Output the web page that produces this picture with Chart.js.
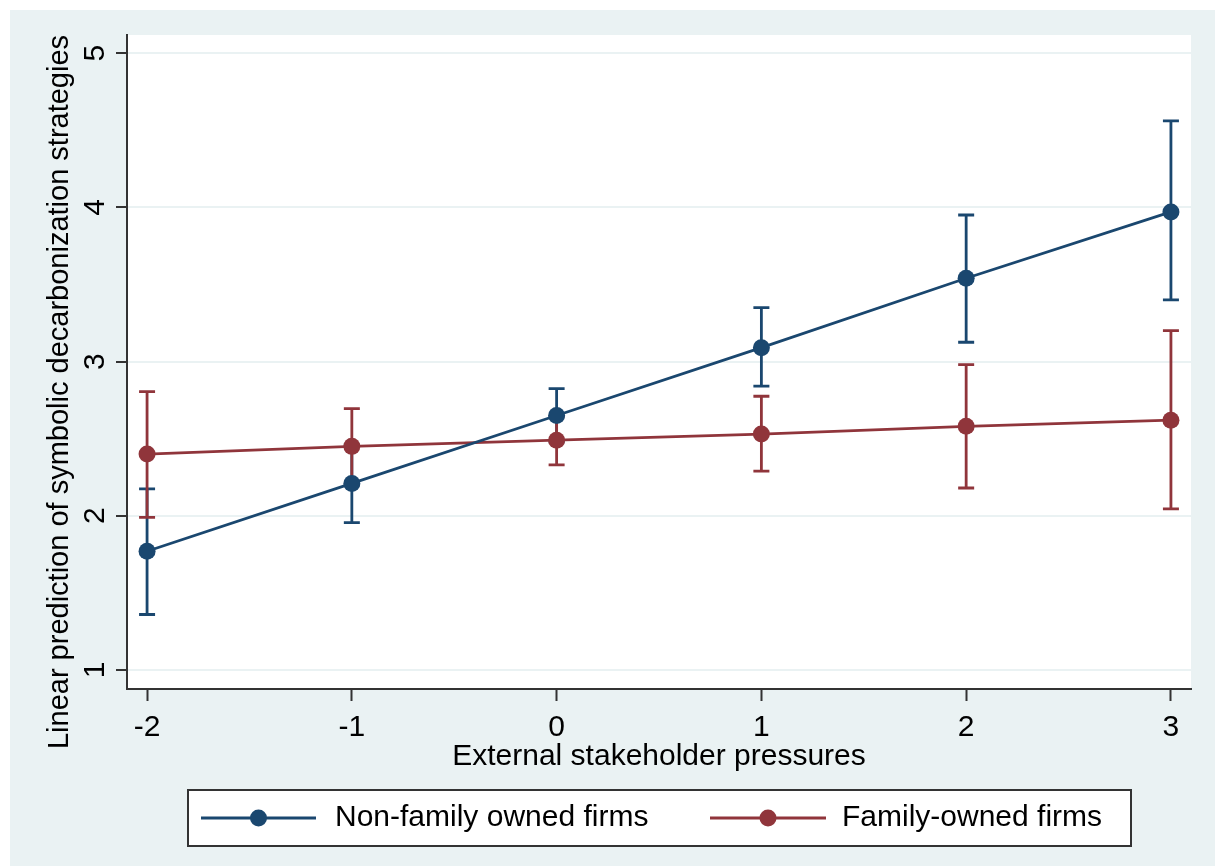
<!DOCTYPE html>
<html><head><meta charset="utf-8">
<script src="https://cdn.jsdelivr.net/npm/chart.js@4.4.0/dist/chart.umd.min.js"></script>
<style>html,body{margin:0;padding:0;background:#fff}canvas{display:block}</style>
</head><body><canvas id="c" width="1215" height="866"></canvas>
<script>
const xValues = [-2, -1, 0, 1, 2, 3];
const nonFamily = [1.77, 2.21, 2.65, 3.09, 3.54, 3.97];
const nonFamilyLow = [1.36, 1.955, 2.48, 2.84, 3.125, 3.40];
const nonFamilyHigh = [2.175, 2.46, 2.825, 3.35, 3.95, 4.56];
const family = [2.40, 2.45, 2.49, 2.53, 2.58, 2.62];
const familyLow = [1.99, 2.20, 2.33, 2.29, 2.18, 2.045];
const familyHigh = [2.805, 2.695, 2.645, 2.775, 2.98, 3.20];
const xTicks = [-2, -1, 0, 1, 2, 3];
const yTicks = [1, 2, 3, 4, 5];
const seriesLabels = ['Non-family owned firms', 'Family-owned firms'];
const xTitle = 'External stakeholder pressures';
const yTitle = 'Linear prediction of symbolic decarbonization strategies';

const BLUE = '#1a476f', RED = '#90353b', BG = '#eaf2f3', AXIS = '#333333';
const FONT = '"Liberation Sans", Arial, sans-serif';
const LW = 2.8;

const toPts = (ys) => xValues.map((x, i) => ({x: x, y: ys[i]}));

const stataPlugin = {
  id: 'stata',
  beforeDraw(chart) {
    const {ctx, width, height, chartArea: a} = chart;
    ctx.save();
    ctx.fillStyle = '#ffffff';
    ctx.fillRect(0, 0, width, height);
    ctx.fillStyle = BG;
    ctx.fillRect(10, 10, width - 10, height - 10);
    ctx.fillStyle = '#ffffff';
    ctx.fillRect(a.left, a.top, a.right - a.left, a.bottom - a.top);
    ctx.restore();
  },
  beforeDatasetsDraw(chart) {
    const {ctx, scales: {x, y}} = chart;
    ctx.save();
    chart.data.datasets.forEach(ds => {
      ctx.strokeStyle = ds.borderColor;
      ctx.lineWidth = LW;
      ds.data.forEach((p, i) => {
        const px = x.getPixelForValue(p.x);
        const lo = y.getPixelForValue(ds.errLow[i]);
        const hi = y.getPixelForValue(ds.errHigh[i]);
        ctx.beginPath();
        ctx.moveTo(px, lo); ctx.lineTo(px, hi);
        ctx.moveTo(px - 8, lo); ctx.lineTo(px + 8, lo);
        ctx.moveTo(px - 8, hi); ctx.lineTo(px + 8, hi);
        ctx.stroke();
      });
    });
    ctx.restore();
  },
  afterDraw(chart) {
    const {ctx, scales: {y}} = chart;
    ctx.save();
    ctx.fillStyle = '#000';
    ctx.font = '30px ' + FONT;
    ctx.textAlign = 'center';
    ctx.textBaseline = 'alphabetic';
    // rotated y tick labels
    y.ticks.forEach(t => {
      const py = y.getPixelForValue(t.value);
      ctx.save();
      ctx.translate(104, py);
      ctx.rotate(-Math.PI / 2);
      ctx.fillText(String(t.value), 0, 0);
      ctx.restore();
    });
    // y title
    ctx.save();
    ctx.font = '29px ' + FONT;
    ctx.translate(68, 392);
    ctx.rotate(-Math.PI / 2);
    ctx.fillText(yTitle, 0, 0);
    ctx.restore();
    // legend
    ctx.fillStyle = '#ffffff';
    ctx.fillRect(188, 790, 943, 56);
    ctx.strokeStyle = AXIS;
    ctx.lineWidth = 2;
    ctx.strokeRect(188, 790, 943, 56);
    const items = [{x0: 201, x1: 316, t: 335}, {x0: 710, x1: 826, t: 842}];
    chart.data.datasets.forEach((ds, i) => {
      const it = items[i], cy = 818;
      ctx.strokeStyle = ds.borderColor;
      ctx.lineWidth = LW;
      ctx.beginPath();
      ctx.moveTo(it.x0, cy); ctx.lineTo(it.x1, cy);
      ctx.stroke();
      ctx.fillStyle = ds.borderColor;
      ctx.beginPath();
      ctx.arc((it.x0 + it.x1) / 2, cy, 8.5, 0, Math.PI * 2);
      ctx.fill();
      ctx.fillStyle = '#000';
      ctx.textAlign = 'left';
      ctx.textBaseline = 'middle';
      ctx.fillText(ds.label, it.t, cy);
    });
    ctx.restore();
  }
};

new Chart(document.getElementById('c'), {
  type: 'line',
  data: {
    datasets: [
      {label: seriesLabels[0], data: toPts(nonFamily), errLow: nonFamilyLow, errHigh: nonFamilyHigh,
       borderColor: BLUE, backgroundColor: BLUE, pointBackgroundColor: BLUE, pointBorderColor: BLUE,
       borderWidth: LW, pointRadius: 8.5, pointBorderWidth: 0, tension: 0, fill: false},
      {label: seriesLabels[1], data: toPts(family), errLow: familyLow, errHigh: familyHigh,
       borderColor: RED, backgroundColor: RED, pointBackgroundColor: RED, pointBorderColor: RED,
       borderWidth: LW, pointRadius: 8.5, pointBorderWidth: 0, tension: 0, fill: false}
    ]
  },
  options: {
    responsive: false,
    animation: false,
    devicePixelRatio: 1,
    layout: {padding: {top: 35, right: 24, bottom: 0, left: 0}},
    plugins: {legend: {display: false}, tooltip: {enabled: false}},
    scales: {
      x: {
        type: 'linear', min: -2.098, max: 3.098,
        afterBuildTicks: s => { s.ticks = xTicks.map(v => ({value: v})); },
        afterFit: s => { s.height = 177; },
        ticks: {callback: v => String(v), color: '#000', font: {family: FONT, size: 30}, padding: 9, maxRotation: 0, autoSkip: false},
        grid: {drawOnChartArea: false, drawTicks: true, tickLength: 12, tickColor: AXIS, tickWidth: 2},
        border: {display: true, color: AXIS, width: 2},
        title: {display: true, text: xTitle, color: '#000', font: {family: FONT, size: 30}, padding: {top: 0, bottom: 91}}
      },
      y: {
        type: 'linear', min: 0.877, max: 5.117,
        afterBuildTicks: s => { s.ticks = yTicks.map(v => ({value: v})); },
        afterFit: s => { s.width = 127; },
        ticks: {display: false},
        grid: {color: BG, lineWidth: 2, drawTicks: true, tickLength: 11, tickColor: AXIS, tickWidth: 2},
        border: {display: true, color: AXIS, width: 2}
      }
    }
  },
  plugins: [stataPlugin]
});
</script>
</body></html>
